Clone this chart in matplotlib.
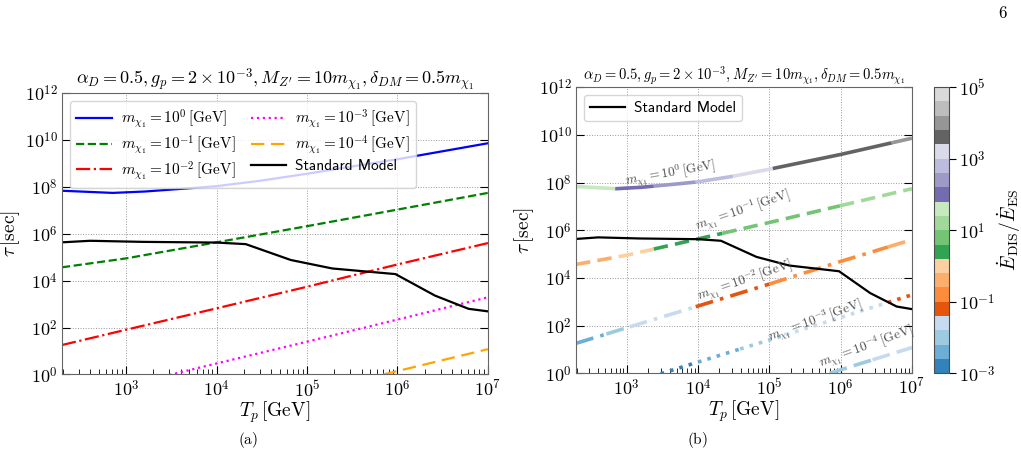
import numpy as np
import matplotlib
matplotlib.use('Agg')
import matplotlib.pyplot as plt
from matplotlib.colors import LogNorm
import matplotlib.cm as cm
from matplotlib.ticker import LogLocator, NullLocator, NullFormatter, FuncFormatter

plt.rcParams['mathtext.fontset'] = 'cm'
plt.rcParams['font.family'] = ['cmss10', 'DejaVu Sans']

# Standard Model
tp_sm = [195, 400, 1.5e3, 1.0e4, 2.1e4, 6.6e4, 1.9e5, 9.5e5, 2.6e6, 6.1e6, 1e7]
tau_sm = [4.3e5, 5.0e5, 4.5e5, 4.2e5, 3.6e5, 7.6e4, 3.3e4, 1.9e4, 2.3e3, 6.3e2, 4.9e2]

# dark matter lifetimes, m_chi1 = 1, 0.1, 0.01, 1e-3, 1e-4 GeV
tp_m0 = [195, 710, 1.6e3, 5.5e3, 1e4, 3e4, 9.5e4, 1e6, 1e7]
tau_m0 = [6.8e7, 5.5e7, 6.3e7, 8.9e7, 1.07e8, 1.8e8, 3.5e8, 1.5e9, 7.2e9]

tp_m1 = [195, 1e3, 1e4, 1e5, 1e6, 1e7]
tau_m1 = [3.7e4, 8.9e4, 4.3e5, 2.1e6, 1.07e7, 5.5e7]

tp_m2 = [195, 1e3, 1e4, 1e5, 1e6, 1e7]
tau_m2 = [18, 81, 660, 5.5e3, 4.9e4, 4.0e5]

tp_m3 = [3e3, 1e4, 1e5, 1e6, 1e7]
tau_m3 = [0.95, 2.95, 25, 219, 1.95e3]

tp_m4 = [7e5, 1e6, 1e7]
tau_m4 = [1.0, 1.4, 12]

# E_DIS / E_ES along each curve (Tp edges of each colour piece, ratio in piece)
edges_m0 = [195, 690, 2.4e3, 9.3e3, 3.1e4, 1.12e5, 5.2e6, 1e7]
ratio_m0 = [40, 100, 250, 630, 1.6e3, 4.0e3, 1.0e4]

edges_m1 = [195, 780, 2.4e3, 2.2e4, 9.8e5, 1e7]
ratio_m1 = [0.4, 1.0, 2.5, 6.3, 16]

edges_m2 = [195, 520, 1.1e3, 9.3e3, 1.0e5, 4.6e6, 1e7]
ratio_m2 = [0.004, 0.01, 0.025, 0.063, 0.16, 0.4]

edges_m3 = [3e3, 1e4, 3.9e4, 1.7e5, 4.6e6, 1e7]
ratio_m3 = [0.0016, 0.004, 0.01, 0.025, 0.063]

edges_m4 = [7e5, 2.8e6, 1e7]
ratio_m4 = [0.01, 0.025]

mass_exp = [0, -1, -2, -3, -4]
tps = [tp_m0, tp_m1, tp_m2, tp_m3, tp_m4]
taus = [tau_m0, tau_m1, tau_m2, tau_m3, tau_m4]
edges = [edges_m0, edges_m1, edges_m2, edges_m3, edges_m4]
ratios = [ratio_m0, ratio_m1, ratio_m2, ratio_m3, ratio_m4]

colors_a = ['blue', 'green', 'red', 'magenta', 'orange']
styles_a = [dict(ls='-'), dict(ls='--'), dict(ls='-.'), dict(ls=':'), dict(dashes=(6, 3))]
styles_b = [dict(ls='-'), dict(dashes=(4, 2)), dict(dashes=(5, 2, 1, 2)),
            dict(dashes=(1, 1.7)), dict(dashes=(5, 2))]

# label positions in panel (b)
lab_x = [4.1e3, 4.3e4, 4.5e4, 4.4e5, 2.3e6]
lab_y = [2.4e8, 6.3e6, 7.4e3, 1.6e2, 13]
lab_rot = [10, 19, 19, 20, 20]

title = r'$\alpha_D = 0.5, g_p = 2\times10^{-3}, M_{Z^\prime} = 10m_{\chi_1}, \delta_{DM} = 0.5m_{\chi_1}$'
mlab = r'$m_{\chi_1} = 10^{%d}\,[\mathrm{GeV}]$'

cmap = plt.get_cmap('tab20c')
norm = LogNorm(1e-3, 1e5)

pow10 = FuncFormatter(lambda v, p: r'$10^{%d}$' % round(np.log10(v)))


def piece(tp, tau, a, b):
    lx, ly = np.log10(tp), np.log10(tau)
    la, lb = np.log10(a), np.log10(b)
    inner = (lx > la) & (lx < lb)
    xs = np.concatenate([[la], lx[inner], [lb]])
    ys = np.interp(xs, lx, ly)
    return 10**xs, 10**ys


def style_axes(ax):
    ax.set_xscale('log')
    ax.set_yscale('log')
    ax.set_xlim(195, 1e7)
    ax.set_ylim(1, 1e12)
    ax.set_yticks([1e0, 1e2, 1e4, 1e6, 1e8, 1e10, 1e12])
    ax.yaxis.set_minor_locator(NullLocator())
    ax.set_xticks([1e3, 1e4, 1e5, 1e6, 1e7])
    ax.xaxis.set_minor_locator(LogLocator(subs=np.arange(2, 10)))
    ax.xaxis.set_minor_formatter(NullFormatter())
    ax.xaxis.set_major_formatter(pow10)
    ax.yaxis.set_major_formatter(pow10)
    ax.tick_params(which='both', direction='in', right=True, labelsize=13, pad=3)
    ax.tick_params(which='major', length=6)
    ax.tick_params(which='minor', length=3.5)
    ax.grid(True, which='major', ls=':', color='0.6', lw=0.7)
    for s in ax.spines.values():
        s.set_color('0.4')
    ax.set_xlabel(r'$T_p\,[\mathrm{GeV}]$', fontsize=14, labelpad=0)
    ax.set_ylabel(r'$\tau\,[\mathrm{sec}]$', fontsize=14, labelpad=2)


fig = plt.figure(figsize=(10.21, 4.61), dpi=100)
ax1 = fig.add_axes([0.0607, 0.1877, 0.4172, 0.6106])
ax2 = fig.add_axes([0.5642, 0.1903, 0.3290, 0.6207])
cax = fig.add_axes([0.9148, 0.1903, 0.0147, 0.6207])

# (a)
for i in range(5):
    ax1.plot(tps[i], taus[i], color=colors_a[i], lw=1.6, label=mlab % mass_exp[i], **styles_a[i])
ax1.plot(tp_sm, tau_sm, color='black', lw=1.6, label='Standard Model')
style_axes(ax1)
ax1.set_title(title, fontsize=13, pad=4)
ax1.legend(loc='upper left', ncol=2, fontsize=11, columnspacing=1.0, handlelength=2.3,
           handletextpad=0.6, labelspacing=0.2, borderpad=0.45, borderaxespad=0.5)

# (b)
for i in range(5):
    for j in range(len(ratios[i])):
        x, y = piece(tps[i], taus[i], edges[i][j], edges[i][j + 1])
        ax2.plot(x, y, color=cmap(norm(ratios[i][j])), lw=2.6, solid_capstyle='butt',
                 **styles_b[i])
    ax2.text(lab_x[i], lab_y[i], mlab % mass_exp[i], rotation=lab_rot[i], fontsize=9.5,
             color='0.3', ha='center', va='center')
ax2.plot(tp_sm, tau_sm, color='black', lw=1.6, label='Standard Model')
style_axes(ax2)
ax2.set_title(title, fontsize=10.5, pad=4)
ax2.legend(loc='upper left', fontsize=11, handlelength=2.3, handletextpad=0.6,
           borderaxespad=0.5)

cb = fig.colorbar(cm.ScalarMappable(norm=norm, cmap=cmap), cax=cax)
cb.set_ticks([1e-3, 1e-1, 1e1, 1e3, 1e5])
cb.ax.yaxis.set_major_formatter(pow10)
cb.ax.yaxis.set_minor_locator(NullLocator())
cb.ax.tick_params(labelsize=13, length=5, pad=2)
cb.outline.set_edgecolor('0.3')
cb.set_label(r'$\dot{E}_{\mathrm{DIS}}/\dot{E}_{\mathrm{ES}}$', fontsize=14, labelpad=0)

fig.text(248 / 1021, 1 - 440 / 461, r'$\mathrm{(a)}$', fontsize=11, ha='center', va='center')
fig.text(697 / 1021, 1 - 440 / 461, r'$\mathrm{(b)}$', fontsize=11, ha='center', va='center')
fig.text(1003 / 1021, 1 - 13 / 461, r'$6$', fontsize=12, ha='center', va='center')

fig.savefig('out.png', dpi=100)
